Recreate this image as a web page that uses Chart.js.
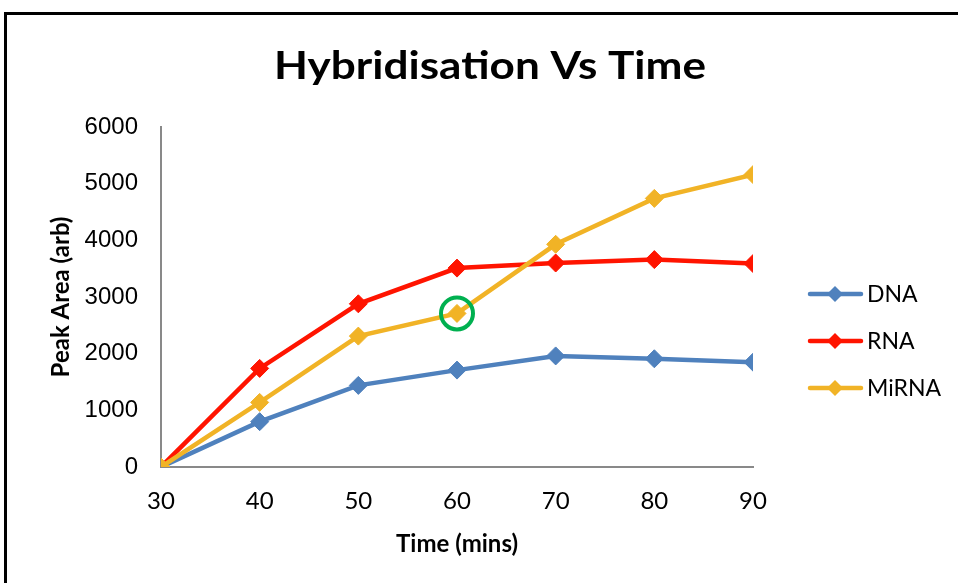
<!DOCTYPE html>
<html>
<head>
<meta charset="utf-8">
<title>Hybridisation Vs Time</title>
<script src="https://cdn.jsdelivr.net/npm/chart.js@4.4.1/dist/chart.umd.min.js"></script>
<style>
  html, body { margin: 0; padding: 0; background: #fff; }
  #wrap { position: relative; width: 958px; height: 583px; overflow: hidden; }
</style>
</head>
<body>
<div id="wrap"><canvas id="hybChart" width="958" height="583"></canvas></div>
<script>
// peak area readings against hybridisation time
const times = [30, 40, 50, 60, 70, 80, 90];
const dnaArea = [0, 800, 1440, 1710, 1960, 1910, 1850];
const rnaArea = [0, 1740, 2880, 3510, 3600, 3660, 3590];
const mirnaArea = [0, 1140, 2310, 2710, 3930, 4740, 5160];
const yTicks = [0, 1000, 2000, 3000, 4000, 5000, 6000];

const seriesNames = ['DNA', 'RNA', 'MiRNA'];
const seriesValues = [dnaArea, rnaArea, mirnaArea];
const seriesColours = ['#4F81BD', '#FF1400', '#F1B326'];

// the MiRNA point at 60 mins gets a ring round it
const ringedSeries = 2;
const ringedTime = 60;

const CALIBRI_ISH = 'Lato, "Open Sans", sans-serif';

const framePlugin = {
  id: 'frame',
  beforeDraw(chart) {
    const ctx = chart.ctx;
    ctx.save();
    ctx.fillStyle = '#fff';
    ctx.fillRect(0, 0, chart.width, chart.height);
    ctx.strokeStyle = '#000';
    ctx.lineWidth = 3;
    ctx.strokeRect(5.5, 13.5, chart.width + 20, chart.height + 20);
    ctx.restore();
  }
};

const titlePlugin = {
  id: 'bigTitle',
  afterDraw(chart) {
    const ctx = chart.ctx;
    const text = 'Hybridisation Vs Time';
    ctx.save();
    ctx.font = 'bold 39px ' + CALIBRI_ISH;
    const w = ctx.measureText(text).width;
    ctx.translate(490, 79);
    ctx.scale(432 / w, 1);
    ctx.fillStyle = '#000';
    ctx.textAlign = 'center';
    ctx.textBaseline = 'alphabetic';
    ctx.fillText(text, 0, 0);
    ctx.restore();
  }
};

const ringPlugin = {
  id: 'ring',
  afterDatasetsDraw(chart) {
    const meta = chart.getDatasetMeta(ringedSeries);
    const pt = meta.data[times.indexOf(ringedTime)];
    if (!pt) return;
    const ctx = chart.ctx;
    ctx.save();
    ctx.strokeStyle = '#00B050';
    ctx.lineWidth = 4;
    ctx.beginPath();
    ctx.arc(pt.x, pt.y, 16, 0, Math.PI * 2);
    ctx.stroke();
    ctx.restore();
  }
};

// line + diamond legend on the right
const sideLegend = {
  id: 'sideLegend',
  afterDraw(chart) {
    const ctx = chart.ctx;
    const rowY = [294, 341, 388];
    ctx.save();
    seriesNames.forEach((name, i) => {
      const y = rowY[i];
      ctx.strokeStyle = seriesColours[i];
      ctx.fillStyle = seriesColours[i];
      ctx.lineWidth = 4.5;
      ctx.lineCap = 'round';
      ctx.beginPath();
      ctx.moveTo(810, y);
      ctx.lineTo(861, y);
      ctx.stroke();
      ctx.beginPath();
      ctx.moveTo(835, y - 8);
      ctx.lineTo(843, y);
      ctx.lineTo(835, y + 8);
      ctx.lineTo(827, y);
      ctx.closePath();
      ctx.fill();
      ctx.fillStyle = '#000';
      ctx.font = '23px ' + CALIBRI_ISH;
      ctx.textAlign = 'left';
      ctx.textBaseline = 'alphabetic';
      ctx.fillText(name, 867, y + 8);
    });
    ctx.restore();
  }
};

const datasets = seriesNames.map((name, i) => ({
  label: name,
  data: times.map((t, j) => ({ x: t, y: seriesValues[i][j] })),
  borderColor: seriesColours[i],
  backgroundColor: seriesColours[i],
  borderWidth: 4.5,
  pointStyle: 'rectRot',
  pointRadius: 9,
  pointBorderWidth: 1,
  pointBackgroundColor: seriesColours[i],
  pointBorderColor: seriesColours[i],
  tension: 0,
  order: seriesNames.length - i
}));

new Chart(document.getElementById('hybChart'), {
  type: 'line',
  data: { datasets },
  options: {
    responsive: false,
    animation: false,
    events: [],
    layout: { padding: { left: 40, right: 205, top: 127, bottom: 16 } },
    plugins: {
      legend: { display: false },
      title: { display: false },
      tooltip: { enabled: false }
    },
    scales: {
      x: {
        type: 'linear',
        min: times[0],
        max: times[times.length - 1],
        afterBuildTicks: s => { s.ticks = times.map(v => ({ value: v })); },
        afterFit: s => { s.height = 100; },
        ticks: {
          color: '#000',
          font: { family: CALIBRI_ISH, size: 24 },
          padding: 20,
          maxRotation: 0
        },
        grid: { display: false, drawTicks: false },
        border: { display: true, color: '#898989', width: 2 },
        title: {
          display: true,
          text: 'Time (mins)',
          color: '#000',
          font: { family: CALIBRI_ISH, size: 24, weight: 'bold' },
          padding: { top: 0, bottom: 8 }
        }
      },
      y: {
        min: yTicks[0],
        max: yTicks[yTicks.length - 1],
        afterBuildTicks: s => { s.ticks = yTicks.map(v => ({ value: v })); },
        afterFit: s => { s.width = 121; },
        ticks: {
          color: '#000',
          font: { family: '"Liberation Sans", Arial, sans-serif', size: 24 },
          padding: 23,
          callback: v => String(v)
        },
        grid: { display: false, drawTicks: false },
        border: { display: true, color: '#898989', width: 2 },
        title: {
          display: true,
          text: 'Peak Area (arb)',
          color: '#000',
          font: { family: CALIBRI_ISH, size: 24, weight: 'bold' },
          padding: { top: 7, bottom: 0 }
        }
      }
    }
  },
  plugins: [framePlugin, ringPlugin, titlePlugin, sideLegend]
});
</script>
</body>
</html>
